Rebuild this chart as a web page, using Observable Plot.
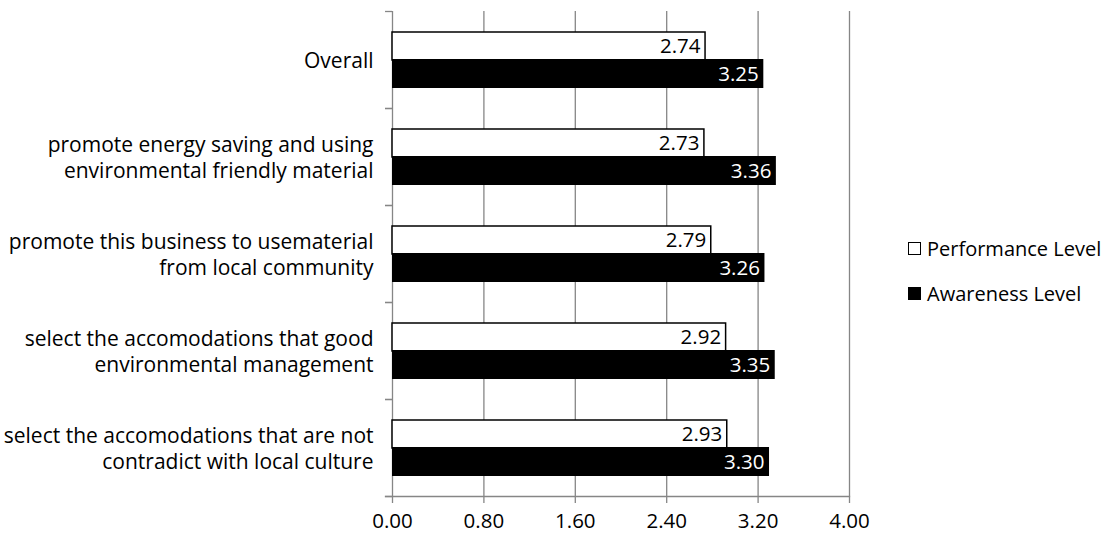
<!DOCTYPE html>
<html>
<head>
<meta charset="utf-8">
<script src="https://cdn.jsdelivr.net/npm/d3@7"></script>
<script src="https://cdn.jsdelivr.net/npm/@observablehq/plot@0.6"></script>
<style>
  body { margin: 0; background: #fff; font-family: "Open Sans", sans-serif; }
  #wrap { position: relative; width: 1113px; height: 538px; }
  #legend { position: absolute; left: 908px; top: 226px; font-size: 20px; color: #000; }
  .item { display: flex; align-items: center; height: 45px; }
  .sw { width: 13px; height: 13px; border: 1.3px solid #000; box-sizing: border-box; margin-right: 6px; }
</style>
</head>
<body>
<div id="wrap"><div id="legend"></div></div>
<script>
const categories = [
  "Overall",
  "promote energy saving and using\nenvironmental friendly material",
  "promote this business to usematerial\nfrom local community",
  "select the accomodations that good\nenvironmental management",
  "select the accomodations that are not\ncontradict with local culture"
];
const performance = [2.74, 2.73, 2.79, 2.92, 2.93];
const awareness = [3.25, 3.36, 3.26, 3.35, 3.30];
const xTicks = [0, 0.8, 1.6, 2.4, 3.2, 4.0];
const seriesNames = ["Performance Level", "Awareness Level"];

const perfData = categories.map((c, i) => ({category: c, value: performance[i]}));
const awareData = categories.map((c, i) => ({category: c, value: awareness[i]}));

const gray = "#868686";
const fs = 20.5;
const chart = Plot.plot({
  width: 1113,
  height: 538,
  marginLeft: 392,
  marginRight: 264,
  marginTop: 11,
  marginBottom: 42,
  style: {fontFamily: "'Open Sans', sans-serif", fontSize: fs + "px", color: "#000", background: "transparent"},
  x: {domain: [0, 4]},
  y: {domain: categories, paddingInner: 0, paddingOuter: 0},
  marks: [
    Plot.ruleX(xTicks.slice(1), {stroke: gray, strokeWidth: 1.3}),
    Plot.ruleX([0], {stroke: gray, strokeWidth: 1.3}),
    Plot.frame({anchor: "bottom", stroke: gray, strokeWidth: 1.3, insetLeft: -7}),
    Plot.ruleY(categories, {y: d => d, x1: -0.061, x2: 0, dy: -48.5, stroke: gray, strokeWidth: 1.3}),
    Plot.ruleY(categories, {y: d => d, x1: -0.061, x2: 0, dy: 48.5, stroke: gray, strokeWidth: 1.3}),
    Plot.barX(perfData, {y: "category", x: "value", fill: "#fff", stroke: "#000", strokeWidth: 1.5, insetTop: 21, insetBottom: 48}),
    Plot.barX(awareData, {y: "category", x: "value", fill: "#000", insetTop: 48, insetBottom: 20}),
    Plot.text(perfData, {y: "category", x: "value", text: d => d.value.toFixed(2), textAnchor: "end", dx: -5, dy: -14, fill: "#000", fontSize: fs}),
    Plot.text(awareData, {y: "category", x: "value", text: d => d.value.toFixed(2), textAnchor: "end", dx: -5, dy: 14, fill: "#fff", fontSize: fs}),
    Plot.axisX({ticks: xTicks, tickFormat: d3.format(".2f"), tickSize: 7, tickPadding: 10, stroke: gray, strokeWidth: 1.3, fontSize: fs, label: null}),
    Plot.axisY({tickSize: 0, tickPadding: 19, fontSize: 21, lineHeight: 1.2, label: null})
  ]
});
document.getElementById("wrap").prepend(chart);

const legend = document.getElementById("legend");
const fills = ["#fff", "#000"];
seriesNames.forEach((n, i) => {
  const it = document.createElement("div");
  it.className = "item";
  const sw = document.createElement("span");
  sw.className = "sw";
  sw.style.background = fills[i];
  it.appendChild(sw);
  it.appendChild(document.createTextNode(n));
  legend.appendChild(it);
});
</script>
</body>
</html>
